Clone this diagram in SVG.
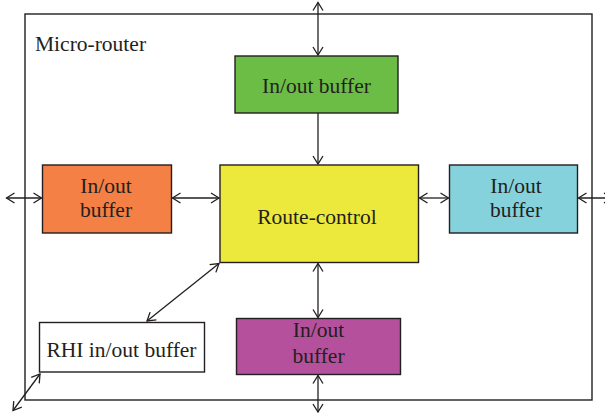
<svg xmlns="http://www.w3.org/2000/svg" width="605" height="414" viewBox="0 0 605 414">
<defs>
<marker id="ah" markerWidth="12" markerHeight="12" refX="9" refY="6" orient="auto-start-reverse" markerUnits="userSpaceOnUse">
<path d="M1,1 L9,6 L1,11" fill="none" stroke="#231f20" stroke-width="1.3"/>
</marker>
</defs>
<style>
.box{stroke:#231f20;stroke-width:1.4}
.t{font-family:"Liberation Serif","Times New Roman",serif;font-size:21.5px;fill:#231f20;text-anchor:middle}
.c{stroke:#231f20;stroke-width:1.3;fill:none}
.bi{marker-start:url(#ah);marker-end:url(#ah)}
.uni{marker-end:url(#ah)}
</style>
<rect width="605" height="414" fill="#fff"/>
<g id="micro-router">
<rect x="25" y="14" width="567" height="386" fill="none" class="box"/>
<text x="35" y="51" class="t" style="text-anchor:start">Micro-router</text>
</g>
<g id="top-buffer">
<rect x="235" y="56" width="163" height="57" fill="#6cbd45" class="box"/>
<text x="316.5" y="92.5" class="t">In/out buffer</text>
</g>
<g id="left-buffer">
<rect x="42.5" y="165" width="129" height="68" fill="#f58045" class="box"/>
<text x="106" y="192.5" class="t">In/out</text>
<text x="106" y="216.5" class="t">buffer</text>
</g>
<g id="route-control">
<rect x="220" y="165" width="198.5" height="97.5" fill="#ede93c" class="box"/>
<text x="317" y="223.5" class="t">Route-control</text>
</g>
<g id="right-buffer">
<rect x="449.5" y="165" width="128" height="68" fill="#86d2dc" class="box"/>
<text x="516" y="192.5" class="t">In/out</text>
<text x="516" y="216.5" class="t">buffer</text>
</g>
<g id="rhi-buffer">
<rect x="39.5" y="322.5" width="165" height="49.5" fill="#fff" class="box"/>
<text x="121.5" y="356.5" class="t">RHI in/out buffer</text>
</g>
<g id="bottom-buffer">
<rect x="236.5" y="318.5" width="164" height="56" fill="#b5519c" class="box"/>
<text x="318.5" y="336.5" class="t">In/out</text>
<text x="318.5" y="363" class="t">buffer</text>
</g>
<g id="connectors">
<line x1="318" y1="2.5" x2="318" y2="55" class="c bi"/>
<line x1="318" y1="113" x2="318" y2="164" class="c uni"/>
<line x1="6.5" y1="198" x2="41.5" y2="198" class="c bi"/>
<line x1="172.5" y1="198" x2="219" y2="198" class="c bi"/>
<line x1="419.5" y1="198" x2="448.5" y2="198" class="c bi"/>
<line x1="578.5" y1="198" x2="612" y2="198" class="c bi"/>
<line x1="219" y1="263.5" x2="147" y2="321" class="c bi"/>
<line x1="318" y1="263.5" x2="318" y2="317.5" class="c bi"/>
<line x1="318" y1="375.5" x2="318" y2="412" class="c bi"/>
<line x1="40" y1="374" x2="13" y2="410.5" class="c bi"/>
</g>
</svg>
